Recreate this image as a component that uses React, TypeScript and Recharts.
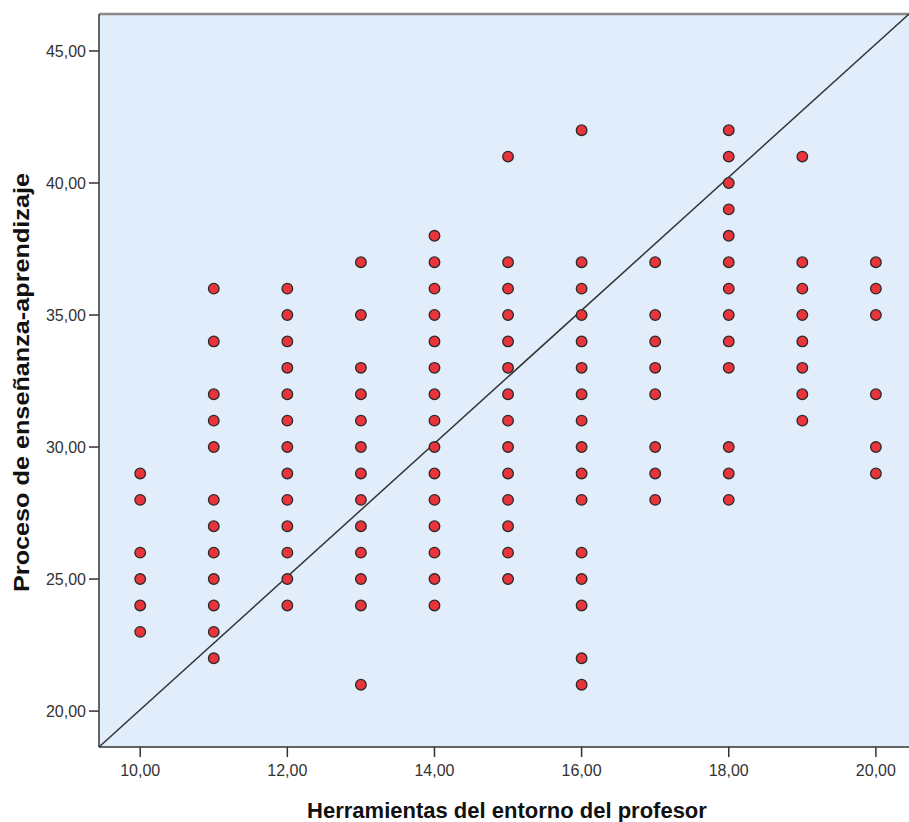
import {
  ScatterChart,
  Scatter,
  XAxis,
  YAxis,
  CartesianGrid,
  ReferenceLine,
} from 'recharts';

// Herramientas del entorno del profesor (x) -> Proceso de enseñanza-aprendizaje (y)
const xGroups = [10, 11, 12, 13, 14, 15, 16, 17, 18, 19, 20];
const col10 = [29, 28, 26, 25, 24, 23];
const col11 = [36, 34, 32, 31, 30, 28, 27, 26, 25, 24, 23, 22];
const col12 = [36, 35, 34, 33, 32, 31, 30, 29, 28, 27, 26, 25, 24];
const col13 = [37, 35, 33, 32, 31, 30, 29, 28, 27, 26, 25, 24, 21];
const col14 = [38, 37, 36, 35, 34, 33, 32, 31, 30, 29, 28, 27, 26, 25, 24];
const col15 = [41, 37, 36, 35, 34, 33, 32, 31, 30, 29, 28, 27, 26, 25];
const col16 = [42, 37, 36, 35, 34, 33, 32, 31, 30, 29, 28, 26, 25, 24, 22, 21];
const col17 = [37, 35, 34, 33, 32, 30, 29, 28];
const col18 = [42, 41, 40, 39, 38, 37, 36, 35, 34, 33, 30, 29, 28];
const col19 = [41, 37, 36, 35, 34, 33, 32, 31];
const col20 = [37, 36, 35, 32, 30, 29];
const columns = [col10, col11, col12, col13, col14, col15, col16, col17, col18, col19, col20];

const xTicks = [10, 12, 14, 16, 18, 20];
const yTicks = [20, 25, 30, 35, 40, 45];

const X_MIN = 9.44;
const X_MAX = 20.45;
const Y_MIN = 18.64;
const Y_MAX = 46.4;

const points = columns.flatMap((col, i) => col.map((y) => ({ x: xGroups[i], y })));

const fmt = (v: number) => v.toFixed(2).replace('.', ',');

const Dot = (props: any) => {
  const { cx, cy } = props;
  if (cx == null || cy == null) return null;
  return <circle cx={cx} cy={cy} r={5.3} fill="#e8343a" stroke="#2a2a2a" strokeWidth={1.3} />;
};

const tickStyle = { fontSize: 16, fill: '#333', fontFamily: '"Liberation Sans", Arial, sans-serif' };

export default function App() {
  return (
    <div style={{ position: 'absolute', left: 0, top: 0, background: '#fff' }}>
      <ScatterChart width={909} height={822} margin={{ top: 14, right: 0, bottom: 0, left: 0 }}>
        <CartesianGrid fill="#e1edfa" horizontal={false} vertical={false} stroke="none" />
        <XAxis
          type="number"
          dataKey="x"
          domain={[X_MIN, X_MAX]}
          ticks={xTicks}
          allowDataOverflow
          tickFormatter={fmt}
          height={75}
          tickSize={10}
          tickMargin={8}
          axisLine={{ stroke: '#333', strokeWidth: 1.5 }}
          tickLine={{ stroke: '#333', strokeWidth: 1.5 }}
          tick={tickStyle}
          label={{
            content: ({ viewBox }: any) => (
              <text
                x={viewBox.x + viewBox.width / 2 + 3}
                y={viewBox.y + 71}
                textAnchor="middle"
                fontSize={22}
                fontWeight="bold"
                fontFamily='"Liberation Sans", Arial, sans-serif'
                fill="#111"
              >
                Herramientas del entorno del profesor
              </text>
            ),
          }}
        />
        <YAxis
          type="number"
          dataKey="y"
          domain={[Y_MIN, Y_MAX]}
          ticks={yTicks}
          allowDataOverflow
          tickFormatter={fmt}
          width={99}
          tickSize={10}
          tickMargin={3}
          axisLine={{ stroke: '#333', strokeWidth: 1.5 }}
          tickLine={{ stroke: '#333', strokeWidth: 1.5 }}
          tick={tickStyle}
          label={{
            content: ({ viewBox }: any) => {
              const cx = viewBox.x + 29;
              const cy = viewBox.y + viewBox.height / 2 + 2;
              return (
                <text
                  x={cx}
                  y={cy}
                  transform={`rotate(-90 ${cx} ${cy})`}
                  textAnchor="middle"
                  fontSize={22}
                  fontWeight="bold"
                  fontFamily='"Liberation Sans", Arial, sans-serif'
                  fill="#111"
                  textLength={419}
                  lengthAdjust="spacingAndGlyphs"
                >
                  Proceso de enseñanza-aprendizaje
                </text>
              );
            },
          }}
        />
        <ReferenceLine y={Y_MAX} stroke="#8a8a8a" strokeWidth={2.5} />
        <ReferenceLine
          segment={[
            { x: X_MIN, y: Y_MIN },
            { x: X_MAX, y: Y_MAX },
          ]}
          stroke="#333"
          strokeWidth={1.5}
        />
        <Scatter data={points} shape={<Dot />} isAnimationActive={false} />
      </ScatterChart>
    </div>
  );
}
